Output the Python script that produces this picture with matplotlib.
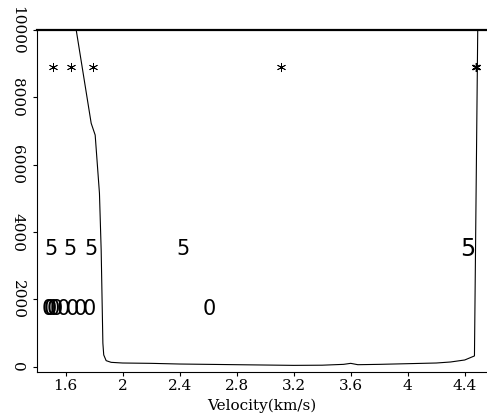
import matplotlib
matplotlib.use("Agg")
import matplotlib.pyplot as plt

# Curve (velocity vs depth-like quantity)
curve_v = [1.675, 1.780, 1.808, 1.838, 1.850, 1.862, 1.868, 1.885, 1.92, 2.0, 2.2, 2.4,
           2.6, 2.8, 3.0, 3.2, 3.4, 3.55, 3.6, 3.65, 3.8, 4.0, 4.2, 4.3, 4.4, 4.468, 4.491]
curve_d = [10000, 7230, 6880, 5150, 3470, 700, 350, 180, 130, 110, 100, 80,
           70, 60, 50, 40, 45, 70, 100, 60, 70, 90, 110, 140, 200, 320, 10000]

# Asterisk points
star_v = [1.511, 1.640, 1.796, 3.113, 4.480]
star_d = [8900, 8900, 8900, 8900, 8900]

# "5" labels
five_v = [1.50, 1.628, 1.780, 2.423]
five_d = [3500, 3500, 3500, 3500]
five_big_v = [4.421]
five_big_d = [3500]

# "0" labels
zero_v = [1.481, 1.495, 1.511, 1.535, 1.586, 1.644, 1.703, 1.768, 2.61]
zero_d = [1700, 1700, 1700, 1700, 1700, 1700, 1700, 1700, 1700]

xticks = [1.6, 2.0, 2.4, 2.8, 3.2, 3.6, 4.0, 4.4]
xticklabels = ["1.6", "2", "2.4", "2.8", "3.2", "3.6", "4", "4.4"]
yticks = [0, 2000, 4000, 6000, 8000, 10000]
yticklabels = ["0", "2000", "4000", "6000", "8000", "10000"]

fig = plt.figure(figsize=(4.87, 4.20), dpi=100)
ax = fig.add_axes([37/487, 48/420, 450/487, 342/420])
ax.set_xlim(1.4, 4.556)
ax.set_ylim(-157, 10000)

ax.plot(curve_v, curve_d, color="black", linewidth=0.8)
ax.plot(star_v[:-1], star_d[:-1], linestyle="none", marker=(6, 2, 0), markersize=6.5,
        markeredgewidth=0.6, color="black")
ax.plot(star_v[-1:], star_d[-1:], linestyle="none", marker=(6, 2, 0), markersize=6.5,
        markeredgewidth=1.0, color="black")
for v, d in zip(five_v, five_d):
    ax.text(v, d, "5", fontsize=15, ha="center", va="center", family="DejaVu Sans")
for v, d in zip(five_big_v, five_big_d):
    ax.text(v, d, "5", fontsize=17, ha="center", va="center", family="DejaVu Sans")
for v, d in zip(zero_v, zero_d):
    ax.text(v, d, "0", fontsize=15, ha="center", va="center", family="DejaVu Sans")

ax.spines["right"].set_visible(False)
ax.spines["top"].set_linewidth(1.6)
ax.spines["left"].set_linewidth(0.8)
ax.spines["bottom"].set_linewidth(0.8)

ax.set_xticks(xticks)
ax.set_xticklabels(xticklabels, family="DejaVu Serif", fontsize=11)
ax.set_yticks(yticks)
ax.set_yticklabels(yticklabels, family="DejaVu Serif", fontsize=11, rotation=-90, va="center")
ax.tick_params(direction="out", length=3, width=0.8, pad=2)
ax.tick_params(axis="y", pad=6)
ax.set_xlabel("Velocity(km/s)", family="DejaVu Serif", fontsize=11, labelpad=4)

fig.savefig("out.png", dpi=100)
